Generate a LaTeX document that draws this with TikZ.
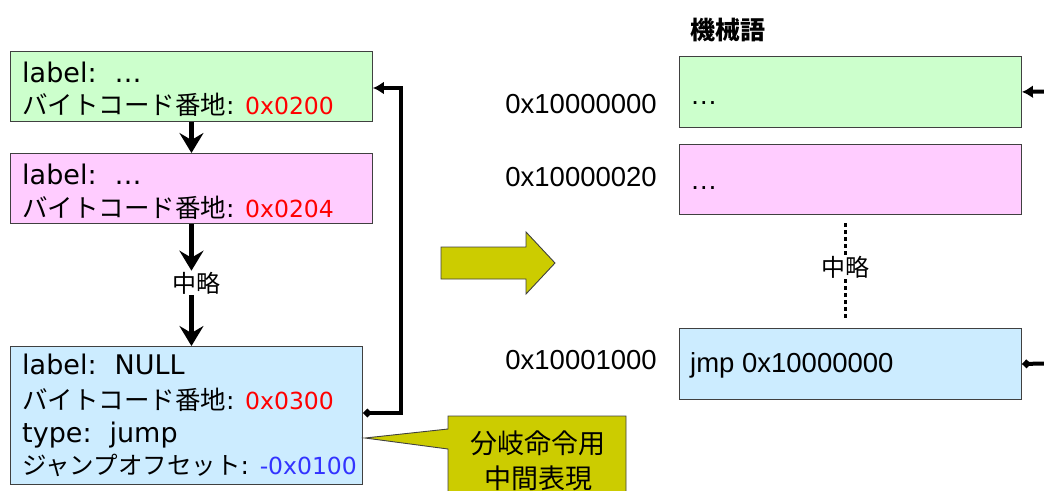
\documentclass[tikz,border=0pt]{standalone}
\usepackage{fontspec}
\setmainfont{DejaVu Sans}
\newfontfamily\jp{Noto Sans CJK JP}
\newfontfamily\arial{Liberation Sans}
\usetikzlibrary{arrows.meta}
\definecolor{gfill}{HTML}{CCFFCC}
\definecolor{pfill}{HTML}{FFCCFF}
\definecolor{bfill}{HTML}{CCECFF}
\definecolor{olive}{HTML}{CCCC00}
\definecolor{redtxt}{HTML}{FF0000}
\definecolor{bluetxt}{HTML}{3333FF}
\definecolor{edge}{HTML}{404040}
\newcommand{\jpt}[1]{{\jp\fontsize{25.5}{28}\selectfont #1}}
\newcommand{\jps}[1]{{\jp\fontsize{24.5}{28}\selectfont #1}}
\newcommand{\num}[2]{\textcolor{#1}{\fontsize{23.5}{28}\selectfont #2}}
\begin{document}
\begin{tikzpicture}[x=1pt,y=-1pt,
  box/.style={draw=edge, line width=0.9pt, inner sep=0pt, anchor=north west},
  txt/.style={inner sep=0pt, anchor=base west, font=\fontsize{25}{28}\selectfont},
  ltxt/.style={inner sep=0pt, anchor=base west, font=\fontsize{27}{30}\selectfont},
  addr/.style={inner sep=0pt, anchor=base east, font=\arial\fontsize{27.5}{30}\selectfont},
  mtxt/.style={inner sep=0pt, anchor=base west, font=\arial\fontsize{27.5}{30}\selectfont},
  cjklbl/.style={inner sep=1pt, font=\jp\fontsize{24}{28}\selectfont},
  downarrow/.style={line width=5pt, -{Stealth[length=20pt,width=24pt,inset=7pt]}},
  looparrow/.style={line width=4pt, {Diamond[length=9pt,width=9pt]}-{Latex[length=11pt,width=13pt]}},
  dotline/.style={line width=3pt, dash pattern=on 4pt off 3pt},
  olivebody/.style={draw=edge, line width=0.9pt, fill=olive}
]
\useasboundingbox (0,0) rectangle (1044,490);

% left boxes
\node[box, fill=gfill, minimum width=362pt, minimum height=70pt] (g1) at (10,51) {};
\node[box, fill=pfill, minimum width=362pt, minimum height=70pt] (p1) at (10,153) {};
\node[box, fill=bfill, minimum width=352pt, minimum height=138pt] (b1) at (10,346) {};

\node[ltxt] (g1a) at (22,82) {label:\hspace{18pt}…};
\node[txt] (g1b) at (22,114) {\jpt{バイトコード番地}: \num{redtxt}{0x0200}};
\node[ltxt] (p1a) at (22,184) {label:\hspace{18pt}…};
\node[txt] (p1b) at (22,217) {\jpt{バイトコード番地}: \num{redtxt}{0x0204}};
\node[ltxt] (b1a) at (22,374) {label:\hspace{18pt}NULL};
\node[txt] (b1b) at (22,409) {\jpt{バイトコード番地}: \num{redtxt}{0x0300}};
\node[ltxt] (b1c) at (22,442) {type:\hspace{18pt}jump};
\node[txt] (b1d) at (22,474) {\jps{ジャンプオフセット}: \num{bluetxt}{-0x0100}};

\node[cjklbl] (mid1) at (196,283) {中略};

\draw[downarrow] (g1.south) -- (p1.north);
\draw[downarrow] (p1.south) -- (p1.south |- mid1.north);
\draw[downarrow] (p1.south |- mid1.south) -- (p1.south |- b1.north);

% loop connector
\draw[looparrow] ([yshift=-67pt]b1.north east) -- ++(38,0) |- ([yshift=-37pt]g1.north east);

% callout
\draw[olivebody] (448,416) -- (626,416) -- (626,494) -- (448,494) -- (448,449) -- (365,438) -- (448,429) -- cycle;
\node[inner sep=0pt, font=\jp\fontsize{27}{35}\selectfont, align=center] (call) at (538,461) {分岐命令用\\中間表現};

% big arrow
\draw[olivebody] (441,247) -- (526,247) -- (526,232) -- (555,263) -- (526,294) -- (526,279) -- (441,279) -- cycle;

% right side
\node[inner sep=0pt, anchor=base west, font=\jp\bfseries\fontsize{25}{28}\selectfont] (title) at (690,39) {機械語};
\node[box, fill=gfill, minimum width=342pt, minimum height=71pt] (rg) at (679,56) {};
\node[box, fill=pfill, minimum width=342pt, minimum height=70pt] (rp) at (679,144) {};
\node[box, fill=bfill, minimum width=342pt, minimum height=71pt] (rb) at (679,328) {};

\node[addr] (a1) at (657,113) {0x10000000};
\node[addr] (a2) at (657,186) {0x10000020};
\node[addr] (a3) at (657,369) {0x10001000};

\node[mtxt] (rgt) at (690,104) {…};
\node[mtxt] (rpt) at (690,189) {…};
\node[mtxt] (rbt) at (690,372) {jmp 0x10000000};

\node[cjklbl] (mid2) at (845,267) {中略};
\draw[dotline] (845,223) -- (mid2.north);
\draw[dotline] (mid2.south) -- (845,320);

\coordinate (re1) at (1046,91.5);
\coordinate (re2) at (1046,363.5);
\draw[line width=4pt, -{Latex[length=11pt,width=13pt]}] (re1) -- (rg.east);
\draw[line width=4pt, {Diamond[length=9pt,width=9pt]}-] (rb.east) -- (re2);
\end{tikzpicture}
\end{document}
